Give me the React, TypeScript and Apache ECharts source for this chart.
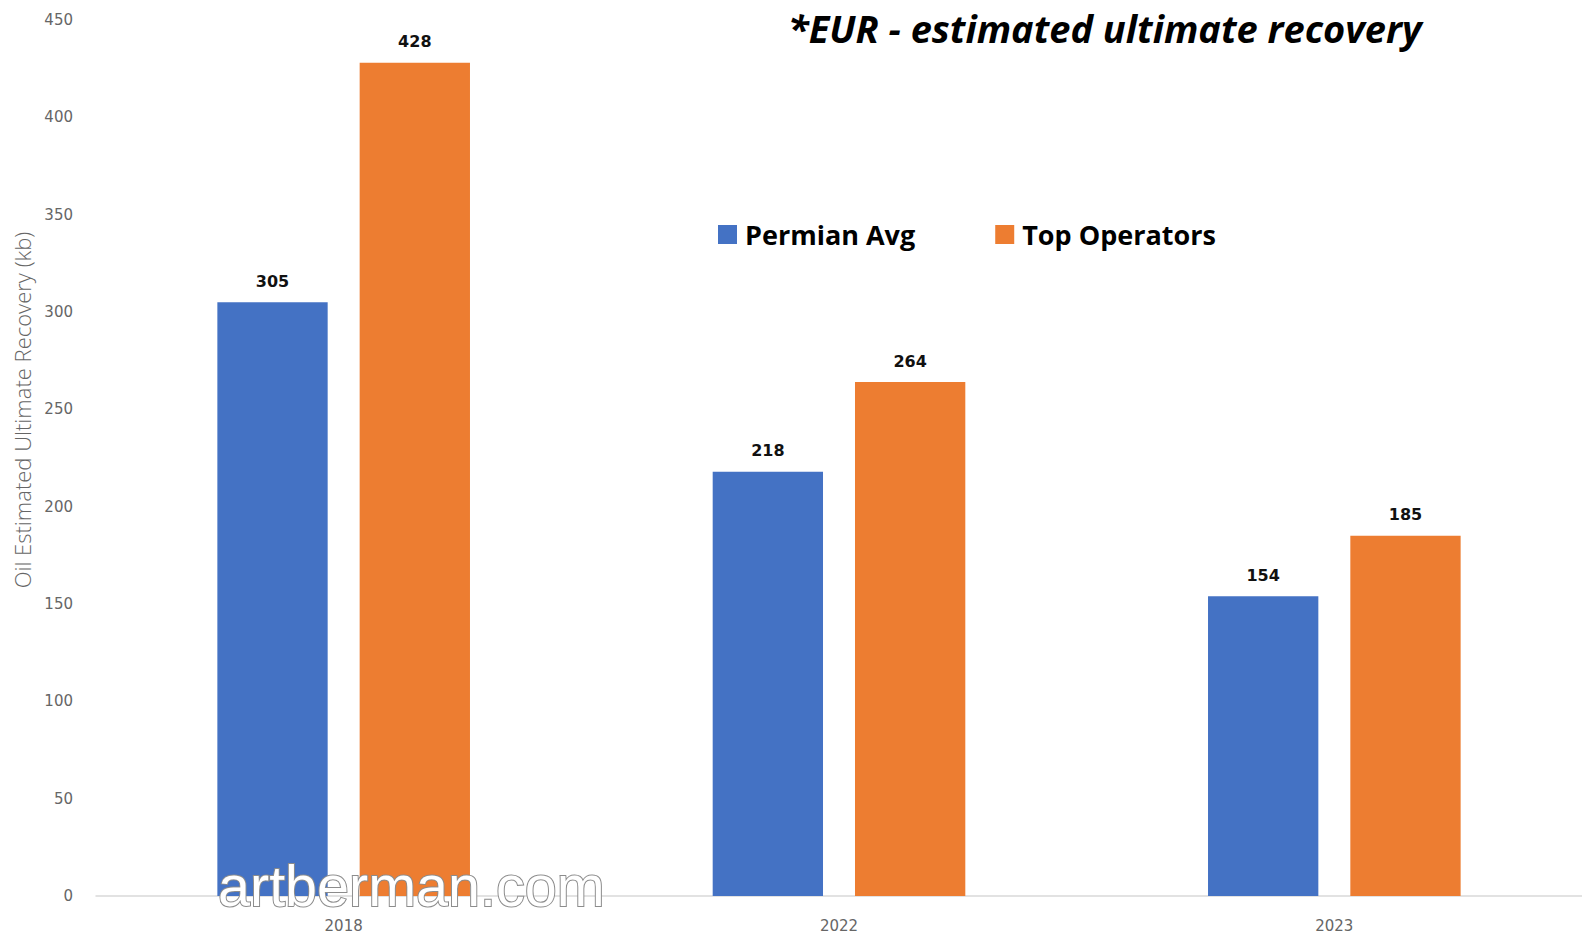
import React, { useEffect, useRef } from "react";
import * as echarts from "echarts";

const categories = ["2018", "2022", "2023"];
const permianAvg = [305, 218, 154];
const topOperators = [428, 264, 185];
const seriesNames = ["Permian Avg", "Top Operators"];
const titleText = "*EUR - estimated ultimate recovery";
const yAxisTitle = "Oil Estimated Ultimate Recovery (kb)";
const watermark = "artberman.com";

export default function App() {
  const ref = useRef<HTMLDivElement>(null);
  useEffect(() => {
    document.body.style.margin = "0";
    const chart = echarts.init(ref.current!, null, { renderer: "svg" });
    const labelStyle = {
      show: true,
      position: "top" as const,
      distance: 13,
      fontFamily: "DejaVu Sans",
      fontWeight: "bold" as const,
      fontSize: 16,
      color: "#111",
    };
    chart.setOption({
      animation: false,
      backgroundColor: "#ffffff",
      grid: { left: 96, right: -2, top: 20, bottom: 40, containLabel: false },
      title: {
        text: titleText,
        left: 783,
        top: 4,
        textStyle: {
          fontFamily: "Open Sans",
          fontStyle: "italic",
          fontWeight: "bold",
          fontSize: 38,
          color: "#000",
        },
      },
      legend: {
        left: 713,
        top: 216,
        itemWidth: 19,
        itemHeight: 19,
        itemGap: 80,
        icon: "rect",
        textStyle: {
          fontFamily: "Open Sans",
          fontWeight: "bold",
          fontSize: 27,
          color: "#000",
          padding: [0, 0, 0, 3],
        },
        data: seriesNames,
      },
      xAxis: {
        type: "category",
        data: categories,
        axisLine: { lineStyle: { color: "#d9d9d9", width: 1.5 } },
        axisTick: { show: false },
        axisLabel: {
          margin: 22,
          fontFamily: "DejaVu Sans",
          fontSize: 15,
          color: "#666",
        },
      },
      yAxis: {
        type: "value",
        min: 0,
        max: 450,
        interval: 50,
        axisLine: { show: false },
        axisTick: { show: false },
        splitLine: { show: false },
        axisLabel: {
          margin: 23,
          fontFamily: "DejaVu Sans",
          fontSize: 15,
          color: "#666",
        },
      },
      series: [
        {
          name: seriesNames[0],
          type: "bar",
          data: permianAvg,
          itemStyle: { color: "#4472c4" },
          barGap: "29%",
          barCategoryGap: "49%",
          label: labelStyle,
        },
        {
          name: seriesNames[1],
          type: "bar",
          data: topOperators,
          itemStyle: { color: "#ed7d31" },
          label: labelStyle,
        },
      ],
      graphic: [
        {
          type: "text",
          x: 22,
          y: 410,
          rotation: Math.PI / 2,
          style: {
            text: yAxisTitle,
            fontFamily: "Open Sans",
            fontWeight: 300,
            fontSize: 22,
            fill: "#666",
            align: "center",
            verticalAlign: "middle",
          },
        },
        {
          type: "text",
          x: 218,
          y: 886,
          z: 100,
          style: {
            text: watermark,
            fontFamily: "Liberation Sans",
            fontSize: 57.5,
            fill: "#ffffff",
            stroke: "#8c8c8c",
            lineWidth: 2,
            align: "left",
            verticalAlign: "middle",
          },
        },
      ],
    });
    return () => chart.dispose();
  }, []);
  return <div ref={ref} style={{ width: 1582, height: 936 }} />;
}
